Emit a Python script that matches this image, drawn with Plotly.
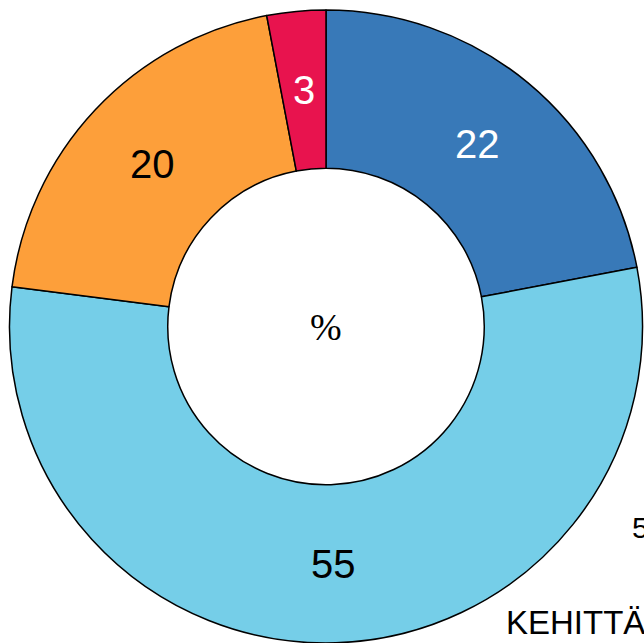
import math
import plotly.graph_objects as go

labels = ["A", "B", "C", "D"]
values = [22, 55, 20, 3]
colors = ["#3879b8", "#75cee8", "#fd9f3a", "#e8134e"]
text_colors = ["white", "black", "black", "white"]

W, H = 644, 643
HOLE = 0.5
# pie placement (pixels)
X0, X1, YT, YB = 9, 643, 10, 643

fig = go.Figure(go.Pie(
    labels=labels,
    values=values,
    hole=HOLE,
    sort=False,
    direction="clockwise",
    rotation=0,
    marker=dict(colors=colors, line=dict(color="black", width=1.5)),
    textinfo="none",
    showlegend=False,
    hoverinfo="none",
    domain=dict(x=[X0/W, X1/W], y=[1-YB/H, 1-YT/H]),
))

# value labels placed at middle of ring, at each slice's mid-angle
cx, cy = (X0 + X1) / 2, (YT + YB) / 2
R = min(X1 - X0, YB - YT) / 2
rmid = R * (1 + HOLE) / 2
total = sum(values)
cum = 0
for v, tc in zip(values, text_colors):
    frac = (cum + v / 2) / total
    cum += v
    ang = 2 * math.pi * frac
    px = cx + rmid * math.sin(ang)
    py = cy - rmid * math.cos(ang)
    fig.add_annotation(text=str(v), x=px/W, y=1-py/H, xref="paper", yref="paper",
                       xanchor="center", yanchor="middle", showarrow=False,
                       font=dict(family="Liberation Sans, Arial", size=40, color=tc))

fig.add_annotation(text="%", x=cx/W, y=1-cy/H, xref="paper", yref="paper",
                   showarrow=False, font=dict(family="Liberation Serif, Times New Roman", size=38, color="black"))
fig.add_annotation(text="5", x=630/W, y=1-527/H, xref="paper", yref="paper",
                   xanchor="left", yanchor="middle", showarrow=False,
                   font=dict(family="Liberation Sans, Arial", size=30, color="black"))
fig.add_annotation(text="KEHITTÄJÄT", x=504/W, y=1-622/H, xref="paper", yref="paper",
                   xanchor="left", yanchor="middle", showarrow=False,
                   font=dict(family="Liberation Sans, Arial", size=33, color="black"))

fig.update_layout(width=W, height=H, margin=dict(l=0, r=0, t=0, b=0),
                  paper_bgcolor="white", plot_bgcolor="white")
fig.write_html("out.html", config={"displayModeBar": False},
               post_script="document.body.style.margin='0';document.body.style.overflow='hidden';")
